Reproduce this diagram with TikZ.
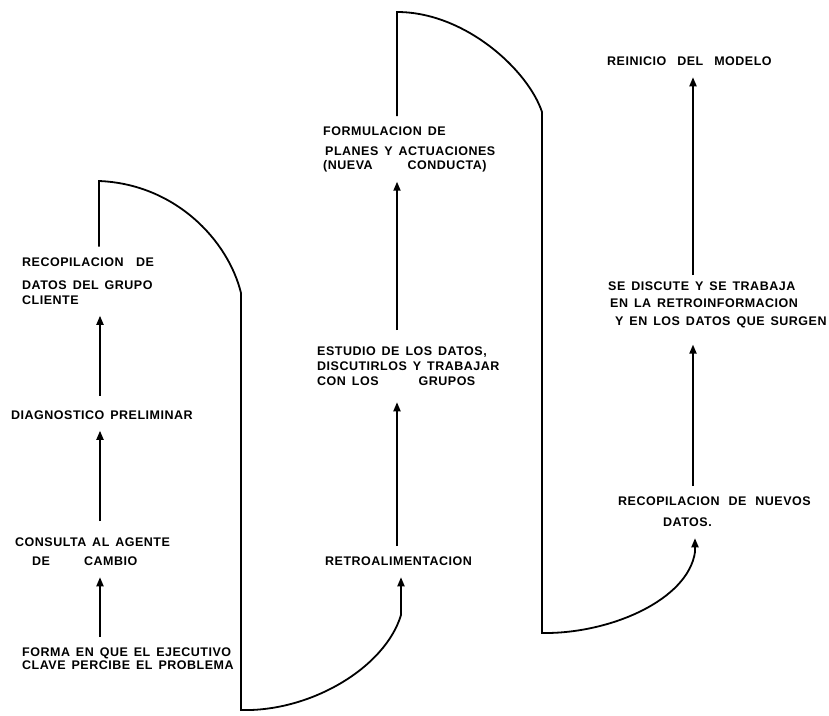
\documentclass[tikz,border=0pt]{standalone}
\usepackage{fontspec}
\newfontfamily\scanfont{Liberation Sans Bold}[LetterSpace=4,WordSpace=1.5]
\usetikzlibrary{arrows.meta}

\begin{document}
\begin{tikzpicture}[x=1pt, y=-1pt,
 	->/.style={arrows={-Triangle[length=9pt,width=7pt]}},
	every node/.style={ black, align=left,
    					anchor=north west,
                        font=\scanfont\fontsize{12.5}{17}\selectfont,
                        inner sep=0pt
                        },
	flow/.style= {line width=1.8pt,
    			  shorten <=11pt,
                  shorten >=11pt
    }
]
	\useasboundingbox (0,0) rectangle (829,715);
	\coordinate (c1) at (100,0);
	\coordinate (c3) at (693,0);
	\coordinate (top1) at (99,181);
	\coordinate (side1) at (241,293);
	\coordinate (low1) at (241,710);
	\coordinate (bend1) at (401,615);
	\coordinate (top2) at (397,12);
	\coordinate (side2) at (542,112);
	\coordinate (low2) at (542,633);
	\coordinate (bend2) at (695,552);

	\node (forma) at (22,648) {FORMA EN QUE EL EJECUTIVO\\[-4.7pt]CLAVE PERCIBE EL PROBLEMA};
	\node (consulta) at (15,538) {CONSULTA AL AGENTE\\[2pt]\hspace*{17pt}DE\hspace*{34pt}CAMBIO};
	\node (diagnostico) at (11,410.5) {DIAGNOSTICO PRELIMINAR};
	\node (recopilacion) at (22,257.5) {RECOPILACION\quad DE\\[6pt]DATOS DEL GRUPO\\[-2pt]CLIENTE};
	\node (retro) at (325,557) {RETROALIMENTACION};
	\node (estudio) at (317,347) {ESTUDIO DE LOS DATOS,\\[-2pt]DISCUTIRLOS Y TRABAJAR\\[-2pt]CON LOS\hspace*{40pt}GRUPOS};
	\node (planes) at (323,127) {FORMULACION DE\\[3pt]\hspace*{2pt}PLANES Y ACTUACIONES\\[-3pt](NUEVA\hspace*{35pt}CONDUCTA)};
	\node (nuevos) at (618,497) {RECOPILACION\hspace{9pt}DE\hspace{9pt}NUEVOS\\[4pt]\hspace*{45pt}DATOS.};
	\node (discute) at (608,282) {SE DISCUTE Y SE TRABAJA\\[-0.5pt]\hspace*{2pt}EN LA RETROINFORMACION\\[1.5pt]\hspace*{7pt}Y EN LOS DATOS QUE SURGEN};
	\node (reinicio) at (607,57) {REINICIO\hspace{11pt}DEL\hspace{11pt}MODELO};

	\draw[flow, ->] (forma.north -| c1) -- (consulta.south -| c1);
	\draw[flow, ->, shorten <=17pt] (consulta.north -| c1) -- (diagnostico.south -| c1);
	\draw[flow, ->, shorten <=15pt] (diagnostico.north -| c1) -- (recopilacion.south -| c1);
	\draw[flow, ->] (recopilacion.north -| top1) -- (top1) .. controls (175,184) and (228,240) .. (side1) -- (low1) .. controls (310,712) and (385,668) .. (bend1) -- (retro.south -| bend1);
	\draw[flow, ->, shorten >=16pt] (retro.north -| top2) -- (estudio.south -| top2);
	\draw[flow, ->, shorten <=17pt, shorten >=9pt] (estudio.north -| top2) -- (planes.south -| top2);
	\draw[flow, ->] (planes.north -| top2) -- (top2) .. controls (465,12) and (528,70) .. (side2) -- (low2) .. controls (610,634) and (688,600) .. (bend2) -- (nuevos.south -| bend2);
	\draw[flow, ->, shorten >=16pt] (nuevos.north -| c3) -- (discute.south -| c3);
	\draw[flow, ->, shorten <=7pt] (discute.north -| c3) -- (reinicio.south -| c3);

\end{tikzpicture}
\end{document}
